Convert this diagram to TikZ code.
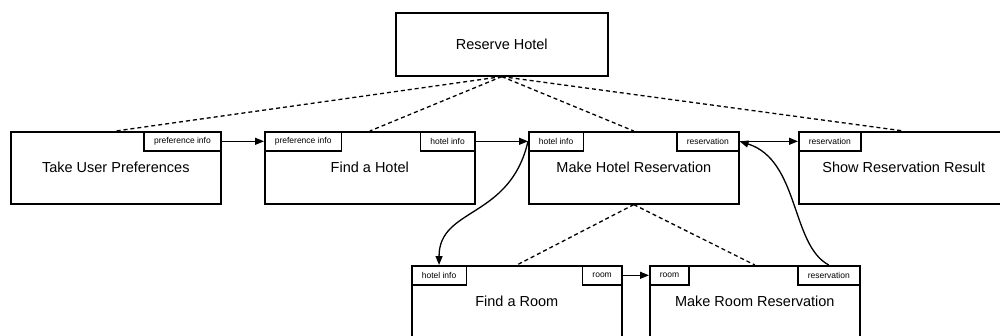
\documentclass[tikz,border=0pt]{standalone}
\usepackage{fontspec}
\setmainfont{Liberation Sans}
\usetikzlibrary{arrows.meta}

\begin{document}
\begin{tikzpicture}[x=1pt, y=-1pt,
    task/.style = {draw, line width=1.6pt, anchor=north west, minimum width=210pt,
      minimum height=72pt, font=\fontsize{14.5}{17}\selectfont},
    port/.style = {draw, fill=white, line width=1.6pt, minimum height=19pt,
      inner xsep=10pt, inner ysep=0pt, font=\fontsize{8.5}{10}\selectfont},
    part/.style = {line width=1.3pt, dash pattern=on 4pt off 3pt},
    flow/.style = {line width=1.3pt, -{Triangle[length=9pt, width=7pt]}}]
  \useasboundingbox (0,0) rectangle (1000,335);
  \node[task, minimum width=212pt, minimum height=63pt] (top) at (395,12) {Reserve Hotel};
  \node[task] (prefs) at (10,131) {Take User Preferences};
  \node[task] (hotel) at (264,131) {Find a Hotel};
  \node[task] (hres) at (528,131) {Make Hotel Reservation};
  \node[task] (show) at (798,131) {Show Reservation Result};
  \node[task] (room) at (411,265) {Find a Room};
  \node[task] (rres) at (649,265) {Make Room Reservation};
  \node[port, anchor=north east] (prefs-out) at (prefs.north east) {preference info};
  \node[port, anchor=north west] (hotel-in) at (hotel.north west) {preference info};
  \node[port, anchor=north east] (hotel-out) at (hotel.north east) {hotel info};
  \node[port, anchor=north west] (hres-in) at (hres.north west) {hotel info};
  \node[port, anchor=north east] (hres-out) at (hres.north east) {reservation};
  \node[port, anchor=north west] (show-in) at (show.north west) {reservation};
  \node[port, anchor=north west] (room-in) at (room.north west) {hotel info};
  \node[port, anchor=north east] (room-out) at (room.north east) {room};
  \node[port, anchor=north west] (rres-in) at (rres.north west) {room};
  \node[port, anchor=north east] (rres-out) at (rres.north east) {reservation};
  \path[part]
    (top.south) edge (prefs.north)
      edge (hotel.north)
      edge (hres.north)
      edge (show.north)
    (hres.south) edge (room.north)
      edge (rres.north);
  \path[flow]
    (prefs-out.east) edge (hotel-in.west)
    (hotel-out.east) edge (hres-in.west)
    (hres-out.east) edge (show-in.west)
    (room-out.east) edge (rres-in.west);
  \draw[flow] (hres-in.west) .. controls +(-18,78) and +(0,-58) .. (room-in.north);
  \draw[flow] (rres-out.north) .. controls +(-38,-20) and +(60,19) .. (hres-out.east);
\end{tikzpicture}
\end{document}
